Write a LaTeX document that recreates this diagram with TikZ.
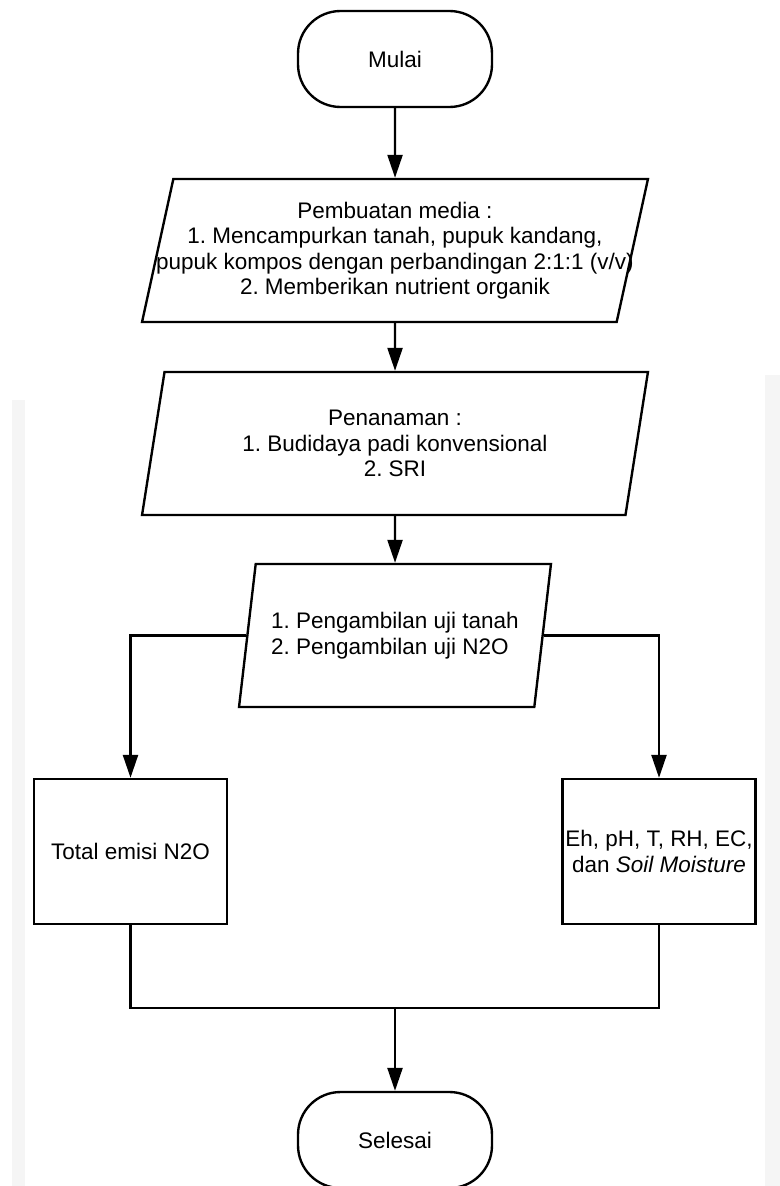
\documentclass[tikz,border=0pt]{standalone}
\usepackage{fontspec}
\setmainfont{Liberation Sans}
\usetikzlibrary{positioning,arrows.meta,shapes.geometric}
\frenchspacing
\tikzset{
  flowarrow/.style={-{Triangle[length=4.6mm, width=3mm]}, line width=1.35pt},
  flowline/.style={line width=1.35pt},
  terminal/.style={draw, line width=1.35pt, rounded corners=0.85cm, minimum width=3.88cm, minimum height=1.92cm, align=center},
  iobox/.style={draw, line width=1.35pt, trapezium, trapezium left angle=74, trapezium right angle=106, trapezium stretches body=true, minimum height=2.86cm, align=center, inner xsep=0pt},
  procbox/.style={draw, line width=1.35pt, minimum width=3.86cm, minimum height=2.9cm, align=center, inner xsep=1pt}
}

\begin{document}
\begin{tikzpicture}[x=0.02cm, y=-0.02cm, every node/.style={font=\fontsize{12.8}{14.5}\selectfont}]
      \useasboundingbox (0,0) rectangle (780,1186);
      % faint page strips
      \fill[gray!8] (12,400) rectangle (25,1186);
      \fill[gray!8] (765,375) rectangle (780,1186);

      \node[terminal] (mulai) at (395,59) {Mulai};
      \node[iobox, minimum width=10.12cm, inner xsep=-0.75cm] (media) at (395,250.5) {Pembuatan media :\\ 1. Mencampurkan tanah, pupuk kandang,\\ pupuk kompos dengan perbandingan 2:1:1 (v/v)\\ 2. Memberikan nutrient organik};
      \node[iobox, minimum width=10.12cm] (tanam) at (395,443.5) {Penanaman :\\ 1. Budidaya padi konvensional\\ 2. SRI};
      \node[iobox, minimum width=6.24cm, align=left] (uji) at (395,635.5) {1. Pengambilan uji tanah\\ 2. Pengambilan uji N2O};
      \node[procbox] (emisi) at (130.5,851.5) {Total emisi N2O};
      \node[procbox] (param) at (659,851.5) {Eh, pH, T, RH, EC,\\ dan \textit{Soil Moisture}};
      \coordinate (gabung) at (395,1008);
      \node[terminal] (selesai) at (395,1140) {Selesai};

      \draw[flowarrow] (mulai) -- (media);
      \draw[flowarrow] (media) -- (tanam);
      \draw[flowarrow] (tanam) -- (uji);
      \draw[flowarrow] (uji.west) -| (emisi.north);
      \draw[flowarrow] (uji.east) -| (param.north);
      \draw[flowline] (emisi.south) |- (gabung);
      \draw[flowline] (param.south) |- (gabung);
      \draw[flowarrow] (gabung) -- (selesai);
    \end{tikzpicture}
\end{document}
